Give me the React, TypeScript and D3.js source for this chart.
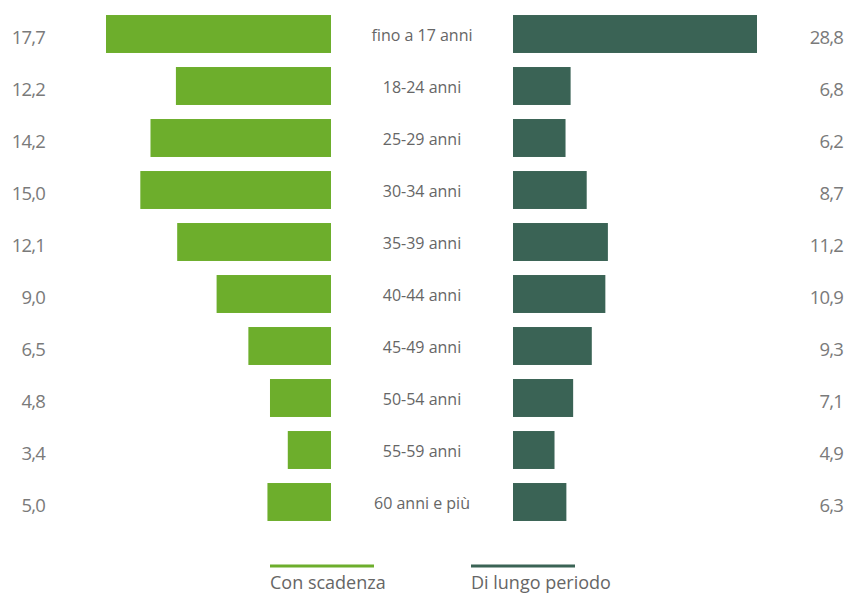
import React from "react";
import * as d3 from "d3";

const categories = ["fino a 17 anni", "18-24 anni", "25-29 anni", "30-34 anni", "35-39 anni", "40-44 anni", "45-49 anni", "50-54 anni", "55-59 anni", "60 anni e più"];
const conScadenza = [17.7, 12.2, 14.2, 15.0, 12.1, 9.0, 6.5, 4.8, 3.4, 5.0];
const lungoPeriodo = [28.8, 6.8, 6.2, 8.7, 11.2, 10.9, 9.3, 7.1, 4.9, 6.3];
const seriesNames = ["Con scadenza", "Di lungo periodo"];

const GREEN = "#6dae2c";
const DARK = "#3a6355";
const W = 848, H = 594;

export default function App() {
  const y = d3.scaleBand<string>().domain(categories).range([8, 528]).paddingInner(0.27).paddingOuter(0.135);
  const xL = d3.scaleLinear().domain([0, 17.7]).range([331, 106]);
  const xR = d3.scaleLinear().domain([0, 28.8]).range([513, 757]);
  const fmt = (v: number) => v.toFixed(1).replace(".", ",");
  const font = "'Open Sans', sans-serif";
  return (
    <svg width={W} height={H} style={{ position: "absolute", left: 0, top: 0 }} fontFamily={font}>
      {categories.map((c, i) => {
        const yy = y(c)!;
        const cy = yy + y.bandwidth() / 2;
        return (
          <g key={c}>
            <rect x={xL(conScadenza[i])} y={yy} width={xL(0) - xL(conScadenza[i])} height={y.bandwidth()} fill={GREEN} />
            <rect x={xR(0)} y={yy} width={xR(lungoPeriodo[i]) - xR(0)} height={y.bandwidth()} fill={DARK} />
            <text x={422} y={cy + 6.5} textAnchor="middle" fontSize={16} fill="#666">{c}</text>
            <text x={45} y={cy + 9.5} textAnchor="end" fontSize={18.5} letterSpacing={-0.8} fill="#7a7a7a">{fmt(conScadenza[i])}</text>
            <text x={843} y={cy + 9.5} textAnchor="end" fontSize={18.5} letterSpacing={-0.8} fill="#7a7a7a">{fmt(lungoPeriodo[i])}</text>
          </g>
        );
      })}
      {seriesNames.map((s, i) => {
        const x0 = i === 0 ? 270 : 471;
        return (
          <g key={s}>
            <line x1={x0} x2={x0 + 104} y1={566} y2={566} stroke={i === 0 ? GREEN : DARK} strokeWidth={3} />
            <text x={x0} y={589} fontSize={18} fill="#666">{s}</text>
          </g>
        );
      })}
    </svg>
  );
}
